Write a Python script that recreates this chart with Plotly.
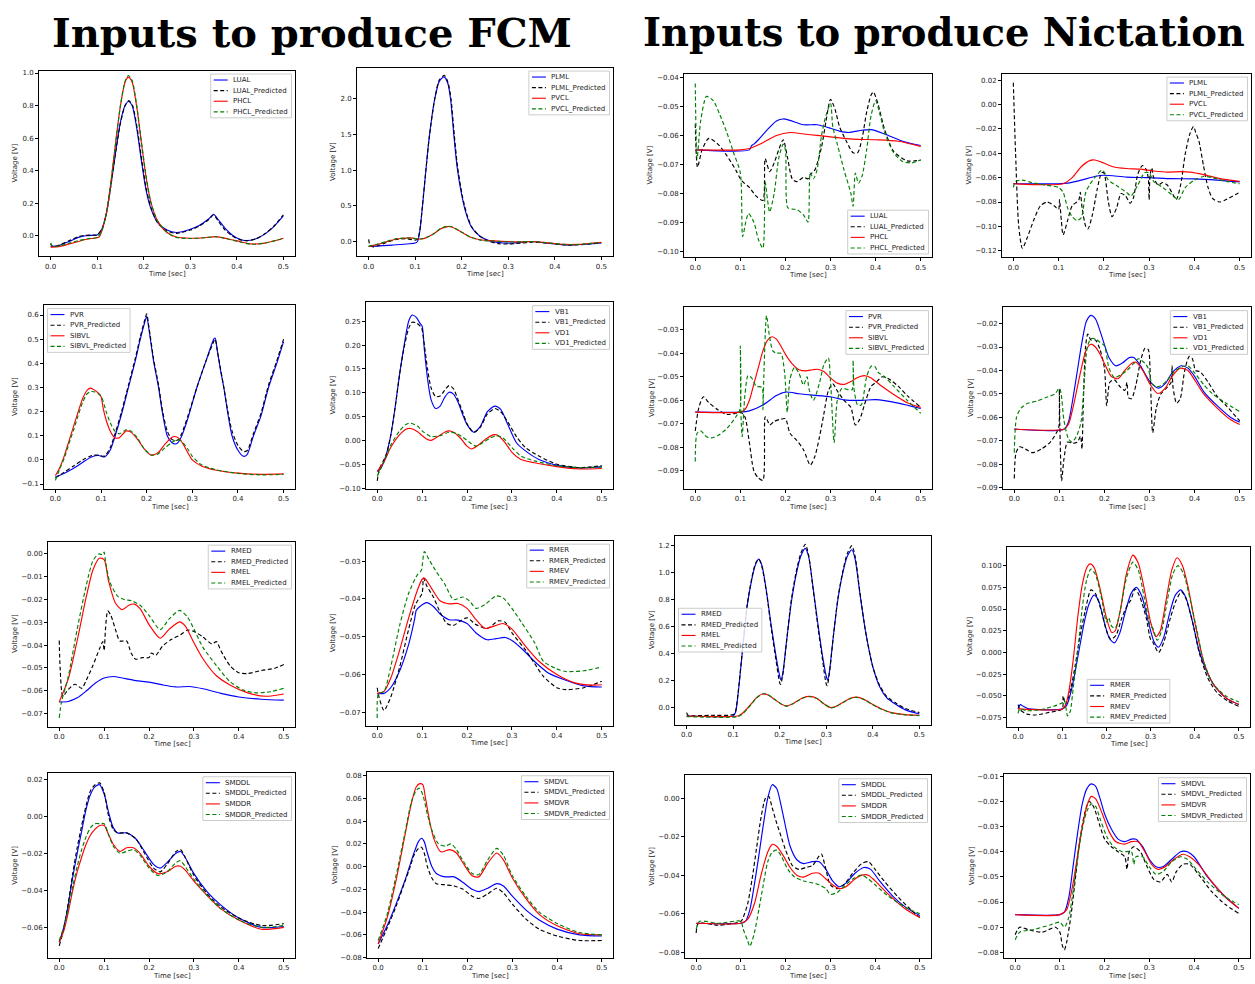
import plotly.graph_objects as go

W, H = 1255, 984

# ---------------- data ----------------
X_TICKS = [0.0, 0.1, 0.2, 0.3, 0.4, 0.5]

# Panel 1 : FCM  LUAL / PHCL
FCM_LUAL = [(0,-0.065),(0.01,-0.064),(0.02,-0.058),(0.04,-0.035),(0.06,-0.01),(0.075,0.0),(0.09,0.003),(0.1,0.005),(0.11,0.04),(0.12,0.14),(0.13,0.32),(0.14,0.52),(0.15,0.70),(0.16,0.80),(0.167,0.825),(0.175,0.80),(0.185,0.66),(0.195,0.46),(0.205,0.28),(0.215,0.17),(0.23,0.08),(0.25,0.035),(0.27,0.02),(0.3,0.04),(0.32,0.065),(0.34,0.105),(0.35,0.132),(0.36,0.1),(0.375,0.045),(0.39,0.005),(0.405,-0.02),(0.42,-0.03),(0.44,-0.02),(0.46,0.01),(0.48,0.058),(0.5,0.122)]
FCM_LUAL_PRED = [(0,-0.05),(0.005,-0.068),(0.02,-0.055),(0.04,-0.03),(0.06,-0.005),(0.075,0.003),(0.09,0.004),(0.1,0.006),(0.11,0.04),(0.12,0.14),(0.13,0.32),(0.14,0.52),(0.15,0.69),(0.16,0.80),(0.168,0.83),(0.176,0.80),(0.186,0.66),(0.196,0.46),(0.206,0.28),(0.216,0.17),(0.23,0.08),(0.25,0.03),(0.27,0.015),(0.3,0.035),(0.32,0.06),(0.34,0.1),(0.35,0.128),(0.36,0.09),(0.375,0.035),(0.39,0.0),(0.405,-0.022),(0.42,-0.03),(0.44,-0.02),(0.46,0.012),(0.48,0.06),(0.5,0.128)]
FCM_PHCL = [(0,-0.07),(0.02,-0.065),(0.04,-0.05),(0.06,-0.035),(0.08,-0.02),(0.1,-0.012),(0.105,-0.005),(0.11,0.03),(0.12,0.14),(0.13,0.34),(0.14,0.58),(0.15,0.80),(0.16,0.945),(0.167,0.975),(0.175,0.945),(0.185,0.79),(0.195,0.57),(0.205,0.36),(0.215,0.21),(0.23,0.09),(0.25,0.02),(0.27,-0.008),(0.3,-0.015),(0.33,-0.012),(0.355,-0.005),(0.38,-0.018),(0.41,-0.038),(0.43,-0.05),(0.46,-0.045),(0.5,-0.015)]
FCM_PHCL_PRED = [(0,-0.045),(0.005,-0.068),(0.02,-0.06),(0.04,-0.045),(0.06,-0.03),(0.08,-0.018),(0.1,-0.01),(0.11,0.03),(0.12,0.14),(0.13,0.34),(0.14,0.58),(0.15,0.80),(0.16,0.95),(0.167,0.985),(0.175,0.955),(0.185,0.80),(0.195,0.58),(0.205,0.37),(0.215,0.21),(0.23,0.09),(0.25,0.022),(0.27,-0.01),(0.3,-0.017),(0.33,-0.012),(0.355,-0.006),(0.38,-0.02),(0.41,-0.04),(0.43,-0.052),(0.46,-0.045),(0.5,-0.017)]

# Panel 2 : FCM  PLML / PVCL
FCM_PLML = [(0,-0.07),(0.05,-0.05),(0.1,-0.02),(0.105,0.0),(0.11,0.15),(0.115,0.45),(0.123,1.0),(0.13,1.45),(0.142,2.0),(0.152,2.25),(0.162,2.31),(0.17,2.22),(0.176,2.0),(0.183,1.5),(0.19,1.05),(0.2,0.65),(0.21,0.38),(0.221,0.2),(0.24,0.07),(0.26,0.01),(0.29,-0.02),(0.31,-0.02),(0.35,0.0),(0.38,-0.02),(0.43,-0.05),(0.5,-0.02)]
FCM_PLML_PRED = [(0,0.03),(0.003,-0.05),(0.01,-0.075),(0.02,-0.06),(0.04,-0.01),(0.06,0.03),(0.08,0.04),(0.1,0.02),(0.105,0.03),(0.11,0.16),(0.115,0.46),(0.123,1.0),(0.13,1.45),(0.142,2.0),(0.152,2.27),(0.163,2.33),(0.171,2.22),(0.177,2.0),(0.184,1.5),(0.191,1.05),(0.201,0.65),(0.211,0.38),(0.222,0.2),(0.24,0.07),(0.26,0.0),(0.28,-0.03),(0.3,-0.035),(0.33,-0.02),(0.35,-0.01),(0.38,-0.02),(0.43,-0.05),(0.5,-0.02)]
FCM_PVCL = [(0,-0.07),(0.02,-0.04),(0.04,0.0),(0.06,0.035),(0.08,0.05),(0.095,0.048),(0.11,0.035),(0.12,0.045),(0.14,0.11),(0.155,0.18),(0.17,0.21),(0.18,0.2),(0.2,0.13),(0.22,0.06),(0.24,0.025),(0.27,0.01),(0.3,0.0),(0.33,-0.005),(0.35,0.0),(0.38,-0.015),(0.42,-0.04),(0.45,-0.04),(0.5,-0.01)]
FCM_PVCL_PRED = [(0,-0.065),(0.02,-0.035),(0.04,0.005),(0.06,0.04),(0.08,0.05),(0.095,0.045),(0.11,0.035),(0.12,0.045),(0.14,0.11),(0.155,0.185),(0.17,0.215),(0.18,0.205),(0.2,0.13),(0.22,0.06),(0.24,0.02),(0.27,0.005),(0.3,-0.005),(0.33,-0.005),(0.35,0.0),(0.38,-0.015),(0.42,-0.04),(0.45,-0.042),(0.5,-0.01)]

# Panel 3 : Nictation  LUAL / PHCL
NIC_LUAL = [(0,-0.065),(0.12,-0.065),(0.125,-0.0635),(0.13,-0.063),(0.14,-0.0615),(0.16,-0.058),(0.18,-0.055),(0.195,-0.0543),(0.21,-0.0548),(0.24,-0.0563),(0.27,-0.0563),(0.3,-0.0575),(0.32,-0.0585),(0.34,-0.059),(0.37,-0.0582),(0.39,-0.058),(0.42,-0.0595),(0.46,-0.062),(0.5,-0.0635)]
NIC_LUAL_PRED = [(0,-0.056),(0.005,-0.071),(0.015,-0.065),(0.03,-0.061),(0.05,-0.063),(0.07,-0.067),(0.09,-0.072),(0.1,-0.075),(0.105,-0.076),(0.12,-0.078),(0.135,-0.081),(0.15,-0.0825),(0.155,-0.068),(0.165,-0.0725),(0.175,-0.0695),(0.185,-0.065),(0.195,-0.0615),(0.205,-0.068),(0.215,-0.075),(0.225,-0.076),(0.24,-0.0745),(0.25,-0.075),(0.255,-0.0735),(0.265,-0.072),(0.28,-0.064),(0.29,-0.055),(0.3,-0.0475),(0.31,-0.051),(0.32,-0.057),(0.335,-0.062),(0.35,-0.066),(0.36,-0.066),(0.37,-0.061),(0.38,-0.052),(0.39,-0.046),(0.395,-0.045),(0.405,-0.049),(0.42,-0.058),(0.44,-0.0655),(0.47,-0.0688),(0.5,-0.0685)]
NIC_PHCL = [(0,-0.065),(0.1,-0.065),(0.12,-0.0645),(0.15,-0.0625),(0.18,-0.06),(0.21,-0.059),(0.24,-0.0595),(0.27,-0.06),(0.3,-0.0605),(0.35,-0.0613),(0.4,-0.0615),(0.45,-0.062),(0.5,-0.0638)]
NIC_PHCL_PRED = [(0,-0.042),(0.004,-0.068),(0.012,-0.055),(0.025,-0.0465),(0.04,-0.048),(0.055,-0.053),(0.07,-0.059),(0.085,-0.066),(0.1,-0.073),(0.105,-0.095),(0.112,-0.09),(0.118,-0.087),(0.13,-0.09),(0.14,-0.096),(0.15,-0.099),(0.155,-0.076),(0.16,-0.082),(0.165,-0.0865),(0.175,-0.08),(0.185,-0.068),(0.195,-0.063),(0.2,-0.065),(0.205,-0.085),(0.215,-0.0855),(0.225,-0.0856),(0.24,-0.0875),(0.25,-0.09),(0.255,-0.073),(0.262,-0.075),(0.27,-0.072),(0.28,-0.06),(0.29,-0.053),(0.3,-0.049),(0.305,-0.057),(0.315,-0.063),(0.33,-0.072),(0.345,-0.08),(0.35,-0.0845),(0.355,-0.073),(0.362,-0.0765),(0.37,-0.074),(0.38,-0.065),(0.39,-0.053),(0.4,-0.048),(0.41,-0.053),(0.42,-0.059),(0.44,-0.066),(0.46,-0.069),(0.48,-0.0695),(0.5,-0.0685)]

# Panel 4 : Nictation  PLML / PVCL
NIC_PLML = [(0,-0.065),(0.1,-0.065),(0.12,-0.0645),(0.15,-0.062),(0.18,-0.059),(0.2,-0.058),(0.25,-0.0595),(0.3,-0.06),(0.35,-0.0608),(0.4,-0.061),(0.45,-0.062),(0.5,-0.0635)]
NIC_PLML_PRED = [(0,0.018),(0.005,-0.04),(0.012,-0.1),(0.02,-0.118),(0.03,-0.11),(0.045,-0.095),(0.06,-0.083),(0.075,-0.08),(0.09,-0.083),(0.1,-0.086),(0.102,-0.078),(0.106,-0.095),(0.11,-0.107),(0.12,-0.095),(0.13,-0.083),(0.14,-0.08),(0.145,-0.078),(0.148,-0.072),(0.152,-0.085),(0.16,-0.1),(0.165,-0.102),(0.175,-0.09),(0.185,-0.07),(0.195,-0.056),(0.2,-0.056),(0.21,-0.08),(0.218,-0.092),(0.228,-0.085),(0.238,-0.073),(0.248,-0.075),(0.258,-0.081),(0.265,-0.077),(0.275,-0.057),(0.285,-0.05),(0.293,-0.053),(0.298,-0.06),(0.3,-0.078),(0.302,-0.058),(0.306,-0.052),(0.31,-0.06),(0.32,-0.066),(0.33,-0.064),(0.34,-0.066),(0.35,-0.072),(0.36,-0.078),(0.37,-0.065),(0.38,-0.04),(0.39,-0.024),(0.398,-0.018),(0.403,-0.023),(0.41,-0.03),(0.42,-0.05),(0.43,-0.068),(0.44,-0.077),(0.455,-0.08),(0.47,-0.078),(0.49,-0.074),(0.5,-0.072)]
NIC_PVCL = [(0,-0.065),(0.11,-0.065),(0.13,-0.06),(0.15,-0.051),(0.17,-0.0458),(0.18,-0.0455),(0.2,-0.048),(0.22,-0.051),(0.25,-0.0525),(0.28,-0.053),(0.31,-0.0545),(0.34,-0.0555),(0.37,-0.055),(0.39,-0.0555),(0.42,-0.0575),(0.46,-0.061),(0.5,-0.063)]
NIC_PVCL_PRED = [(0,-0.068),(0.005,-0.063),(0.02,-0.062),(0.04,-0.064),(0.07,-0.066),(0.1,-0.068),(0.11,-0.072),(0.12,-0.085),(0.13,-0.092),(0.14,-0.095),(0.15,-0.093),(0.16,-0.072),(0.17,-0.065),(0.18,-0.06),(0.195,-0.054),(0.2,-0.055),(0.21,-0.062),(0.23,-0.067),(0.25,-0.072),(0.26,-0.075),(0.275,-0.066),(0.29,-0.056),(0.3,-0.056),(0.31,-0.063),(0.33,-0.068),(0.35,-0.074),(0.365,-0.078),(0.38,-0.068),(0.4,-0.062),(0.42,-0.059),(0.44,-0.06),(0.47,-0.063),(0.5,-0.065)]

# Panel 5 : FCM  PVR / SIBVL
FCM_PVR = [(0,-0.07),(0.02,-0.055),(0.04,-0.035),(0.06,-0.01),(0.08,0.013),(0.095,0.018),(0.105,0.012),(0.11,0.015),(0.12,0.04),(0.131,0.1),(0.145,0.19),(0.16,0.3),(0.175,0.41),(0.186,0.5),(0.195,0.565),(0.2,0.595),(0.205,0.54),(0.215,0.41),(0.226,0.3),(0.235,0.19),(0.245,0.1),(0.255,0.072),(0.263,0.066),(0.27,0.075),(0.277,0.1),(0.29,0.17),(0.31,0.3),(0.33,0.41),(0.347,0.5),(0.35,0.505),(0.355,0.45),(0.362,0.37),(0.369,0.3),(0.378,0.19),(0.387,0.1),(0.4,0.04),(0.412,0.015),(0.42,0.022),(0.434,0.1),(0.45,0.18),(0.467,0.3),(0.485,0.4),(0.5,0.49)]
FCM_PVR_PRED = [(0,-0.075),(0.02,-0.05),(0.04,-0.025),(0.06,0.0),(0.08,0.018),(0.095,0.02),(0.105,0.015),(0.11,0.02),(0.12,0.05),(0.131,0.11),(0.145,0.2),(0.16,0.31),(0.175,0.42),(0.186,0.51),(0.195,0.575),(0.2,0.605),(0.205,0.55),(0.215,0.42),(0.226,0.31),(0.235,0.2),(0.245,0.12),(0.255,0.085),(0.263,0.08),(0.27,0.085),(0.277,0.11),(0.29,0.18),(0.31,0.3),(0.33,0.41),(0.347,0.49),(0.35,0.5),(0.355,0.45),(0.362,0.375),(0.369,0.3),(0.378,0.2),(0.387,0.12),(0.4,0.06),(0.412,0.035),(0.42,0.038),(0.434,0.11),(0.45,0.19),(0.467,0.31),(0.485,0.41),(0.5,0.5)]
FCM_SIBVL = [(0,-0.065),(0.01,-0.03),(0.02,0.02),(0.03,0.08),(0.04,0.14),(0.05,0.2),(0.06,0.255),(0.07,0.29),(0.077,0.297),(0.085,0.29),(0.095,0.275),(0.1,0.262),(0.105,0.21),(0.112,0.16),(0.12,0.12),(0.13,0.092),(0.14,0.092),(0.155,0.12),(0.165,0.115),(0.18,0.085),(0.195,0.045),(0.21,0.02),(0.225,0.03),(0.24,0.065),(0.255,0.093),(0.262,0.097),(0.27,0.09),(0.28,0.065),(0.29,0.03),(0.3,0.0),(0.32,-0.025),(0.35,-0.042),(0.4,-0.055),(0.45,-0.06),(0.5,-0.058)]
FCM_SIBVL_PRED = [(0,-0.085),(0.01,-0.035),(0.02,0.01),(0.03,0.07),(0.04,0.125),(0.05,0.185),(0.06,0.24),(0.07,0.275),(0.077,0.283),(0.085,0.282),(0.095,0.272),(0.1,0.263),(0.105,0.24),(0.112,0.195),(0.12,0.155),(0.13,0.12),(0.14,0.108),(0.155,0.125),(0.165,0.12),(0.18,0.09),(0.195,0.045),(0.21,0.02),(0.225,0.025),(0.24,0.05),(0.255,0.072),(0.265,0.083),(0.275,0.08),(0.29,0.045),(0.3,0.015),(0.32,-0.02),(0.35,-0.04),(0.4,-0.056),(0.45,-0.062),(0.5,-0.06)]

# Panel 6 : FCM  VB1 / VD1
FCM_VB1 = [(0,-0.065),(0.01,-0.055),(0.02,-0.03),(0.03,0.01),(0.04,0.07),(0.05,0.14),(0.06,0.2),(0.07,0.25),(0.078,0.263),(0.087,0.258),(0.095,0.246),(0.1,0.24),(0.105,0.19),(0.112,0.13),(0.12,0.085),(0.13,0.067),(0.14,0.072),(0.15,0.09),(0.16,0.101),(0.17,0.097),(0.18,0.08),(0.19,0.055),(0.2,0.033),(0.215,0.017),(0.23,0.03),(0.245,0.06),(0.262,0.072),(0.275,0.065),(0.29,0.035),(0.31,-0.005),(0.33,-0.022),(0.36,-0.04),(0.4,-0.052),(0.45,-0.058),(0.5,-0.055)]
FCM_VB1_PRED = [(0,-0.085),(0.005,-0.06),(0.02,-0.03),(0.03,0.01),(0.04,0.07),(0.05,0.14),(0.06,0.195),(0.07,0.235),(0.078,0.248),(0.088,0.246),(0.097,0.238),(0.1,0.232),(0.105,0.2),(0.112,0.15),(0.12,0.11),(0.13,0.092),(0.14,0.093),(0.15,0.105),(0.16,0.115),(0.17,0.108),(0.18,0.085),(0.19,0.06),(0.2,0.035),(0.215,0.017),(0.23,0.028),(0.245,0.055),(0.262,0.067),(0.275,0.06),(0.29,0.04),(0.31,0.008),(0.33,-0.015),(0.36,-0.033),(0.4,-0.05),(0.45,-0.057),(0.5,-0.053)]
FCM_VD1 = [(0,-0.065),(0.015,-0.045),(0.03,-0.015),(0.05,0.012),(0.065,0.024),(0.075,0.025),(0.09,0.018),(0.1,0.01),(0.11,0.003),(0.12,0.0),(0.135,0.008),(0.15,0.017),(0.16,0.02),(0.17,0.017),(0.185,0.005),(0.2,-0.012),(0.21,-0.018),(0.225,-0.01),(0.245,0.005),(0.26,0.012),(0.27,0.01),(0.285,-0.005),(0.3,-0.025),(0.32,-0.04),(0.35,-0.047),(0.4,-0.055),(0.45,-0.06),(0.5,-0.059)]
FCM_VD1_PRED = [(0,-0.075),(0.015,-0.045),(0.03,-0.01),(0.05,0.02),(0.065,0.034),(0.075,0.036),(0.09,0.03),(0.1,0.02),(0.12,0.008),(0.14,0.01),(0.16,0.017),(0.175,0.015),(0.19,0.007),(0.21,-0.007),(0.22,-0.012),(0.235,-0.005),(0.25,0.004),(0.265,0.01),(0.28,0.005),(0.3,-0.015),(0.32,-0.033),(0.35,-0.043),(0.4,-0.053),(0.45,-0.057),(0.5,-0.056)]

# Panel 7 : Nictation  PVR / SIBVL
NIC_PVR = [(0,-0.065),(0.1,-0.065),(0.12,-0.0645),(0.15,-0.062),(0.18,-0.058),(0.2,-0.0565),(0.23,-0.0572),(0.26,-0.0578),(0.3,-0.0585),(0.33,-0.0598),(0.37,-0.06),(0.4,-0.0597),(0.45,-0.0612),(0.5,-0.0635)]
NIC_PVR_PRED = [(0,-0.073),(0.008,-0.063),(0.018,-0.0585),(0.03,-0.061),(0.05,-0.064),(0.07,-0.066),(0.09,-0.0655),(0.1,-0.065),(0.11,-0.067),(0.12,-0.078),(0.13,-0.09),(0.14,-0.093),(0.15,-0.094),(0.155,-0.067),(0.16,-0.0685),(0.165,-0.0705),(0.175,-0.069),(0.19,-0.068),(0.2,-0.0678),(0.21,-0.074),(0.225,-0.077),(0.24,-0.081),(0.255,-0.0875),(0.265,-0.084),(0.275,-0.076),(0.285,-0.066),(0.295,-0.056),(0.305,-0.053),(0.315,-0.056),(0.33,-0.06),(0.345,-0.063),(0.355,-0.0705),(0.365,-0.068),(0.375,-0.062),(0.39,-0.054),(0.4,-0.0525),(0.415,-0.05),(0.43,-0.051),(0.45,-0.054),(0.47,-0.058),(0.5,-0.063)]
NIC_SIBVL = [(0,-0.065),(0.1,-0.065),(0.11,-0.064),(0.12,-0.06),(0.13,-0.053),(0.14,-0.046),(0.15,-0.039),(0.16,-0.0345),(0.17,-0.033),(0.18,-0.034),(0.19,-0.037),(0.2,-0.0405),(0.215,-0.0445),(0.23,-0.047),(0.245,-0.0475),(0.26,-0.047),(0.27,-0.0468),(0.285,-0.0478),(0.3,-0.0505),(0.315,-0.0527),(0.33,-0.0532),(0.345,-0.052),(0.36,-0.0503),(0.375,-0.0495),(0.39,-0.0505),(0.41,-0.0535),(0.44,-0.0575),(0.47,-0.061),(0.5,-0.063)]
NIC_SIBVL_PRED = [(0,-0.086),(0.004,-0.074),(0.012,-0.073),(0.025,-0.0755),(0.035,-0.076),(0.05,-0.075),(0.07,-0.072),(0.09,-0.067),(0.099,-0.064),(0.1,-0.037),(0.101,-0.064),(0.104,-0.0755),(0.11,-0.058),(0.117,-0.0495),(0.125,-0.0505),(0.135,-0.054),(0.148,-0.0545),(0.15,-0.064),(0.152,-0.05),(0.158,-0.024),(0.164,-0.032),(0.172,-0.039),(0.18,-0.04),(0.19,-0.04),(0.198,-0.048),(0.204,-0.065),(0.21,-0.051),(0.22,-0.046),(0.23,-0.0485),(0.24,-0.0535),(0.248,-0.05),(0.252,-0.055),(0.262,-0.06),(0.275,-0.053),(0.285,-0.045),(0.295,-0.042),(0.3,-0.052),(0.308,-0.078),(0.315,-0.06),(0.325,-0.055),(0.34,-0.0555),(0.348,-0.0555),(0.35,-0.043),(0.352,-0.055),(0.36,-0.062),(0.368,-0.062),(0.38,-0.05),(0.39,-0.0455),(0.398,-0.0455),(0.405,-0.048),(0.42,-0.05),(0.44,-0.054),(0.47,-0.06),(0.5,-0.0655)]

# Panel 8 : Nictation  VB1 / VD1
NIC_VB1 = [(0,-0.065),(0.11,-0.065),(0.12,-0.062),(0.13,-0.052),(0.14,-0.04),(0.15,-0.028),(0.16,-0.019),(0.17,-0.0165),(0.18,-0.018),(0.19,-0.023),(0.2,-0.029),(0.21,-0.0345),(0.225,-0.038),(0.24,-0.0368),(0.255,-0.0345),(0.265,-0.0345),(0.28,-0.038),(0.3,-0.0445),(0.32,-0.0475),(0.335,-0.0455),(0.35,-0.041),(0.37,-0.038),(0.385,-0.039),(0.4,-0.0425),(0.42,-0.049),(0.45,-0.055),(0.48,-0.06),(0.5,-0.062)]
NIC_VB1_PRED = [(0,-0.086),(0.004,-0.075),(0.012,-0.0725),(0.025,-0.0735),(0.04,-0.075),(0.06,-0.0735),(0.08,-0.0705),(0.095,-0.066),(0.099,-0.064),(0.1,-0.048),(0.101,-0.063),(0.105,-0.087),(0.11,-0.078),(0.118,-0.0705),(0.13,-0.071),(0.14,-0.0705),(0.147,-0.068),(0.15,-0.0735),(0.153,-0.055),(0.158,-0.03),(0.163,-0.0245),(0.17,-0.027),(0.18,-0.027),(0.19,-0.031),(0.2,-0.039),(0.205,-0.055),(0.212,-0.045),(0.222,-0.044),(0.235,-0.047),(0.245,-0.0485),(0.25,-0.045),(0.253,-0.0515),(0.26,-0.052),(0.27,-0.046),(0.28,-0.036),(0.29,-0.0305),(0.297,-0.031),(0.302,-0.045),(0.307,-0.0665),(0.315,-0.056),(0.325,-0.05),(0.34,-0.047),(0.348,-0.045),(0.35,-0.038),(0.352,-0.047),(0.36,-0.054),(0.368,-0.052),(0.378,-0.04),(0.388,-0.034),(0.395,-0.035),(0.402,-0.04),(0.412,-0.0405),(0.43,-0.045),(0.45,-0.051),(0.47,-0.055),(0.5,-0.0615)]
NIC_VD1 = [(0,-0.065),(0.11,-0.065),(0.12,-0.063),(0.13,-0.056),(0.14,-0.047),(0.15,-0.038),(0.16,-0.031),(0.17,-0.0288),(0.18,-0.03),(0.19,-0.033),(0.2,-0.037),(0.215,-0.0425),(0.23,-0.0435),(0.245,-0.04),(0.26,-0.037),(0.27,-0.0365),(0.285,-0.04),(0.3,-0.0455),(0.318,-0.0498),(0.335,-0.0475),(0.35,-0.0425),(0.368,-0.039),(0.385,-0.04),(0.4,-0.044),(0.42,-0.05),(0.45,-0.056),(0.48,-0.061),(0.5,-0.063)]
NIC_VD1_PRED = [(0,-0.075),(0.005,-0.06),(0.015,-0.056),(0.03,-0.054),(0.05,-0.053),(0.07,-0.0515),(0.09,-0.05),(0.1,-0.0475),(0.104,-0.05),(0.11,-0.061),(0.12,-0.069),(0.128,-0.0705),(0.138,-0.068),(0.148,-0.062),(0.155,-0.045),(0.162,-0.03),(0.17,-0.0265),(0.18,-0.0265),(0.19,-0.028),(0.2,-0.0295),(0.21,-0.039),(0.222,-0.043),(0.235,-0.042),(0.25,-0.04),(0.265,-0.037),(0.275,-0.035),(0.29,-0.037),(0.297,-0.039),(0.305,-0.0455),(0.315,-0.047),(0.325,-0.0465),(0.34,-0.044),(0.355,-0.0405),(0.37,-0.0385),(0.385,-0.038),(0.4,-0.041),(0.42,-0.046),(0.44,-0.05),(0.47,-0.054),(0.5,-0.0575)]

# Panel 9 : FCM  RMED / RMEL
FCM_RMED = [(0,-0.065),(0.02,-0.0648),(0.04,-0.0632),(0.06,-0.0602),(0.08,-0.0568),(0.1,-0.0545),(0.12,-0.0538),(0.14,-0.0545),(0.17,-0.0556),(0.2,-0.0563),(0.23,-0.0575),(0.26,-0.0584),(0.29,-0.0582),(0.32,-0.0592),(0.36,-0.0612),(0.4,-0.0628),(0.45,-0.0638),(0.5,-0.0642)]
FCM_RMED_PRED = [(0,-0.038),(0.002,-0.05),(0.008,-0.0625),(0.02,-0.0595),(0.035,-0.0572),(0.05,-0.059),(0.06,-0.0555),(0.075,-0.049),(0.09,-0.0415),(0.097,-0.0385),(0.1,-0.0425),(0.103,-0.033),(0.108,-0.025),(0.115,-0.027),(0.125,-0.033),(0.135,-0.0382),(0.15,-0.0382),(0.16,-0.0435),(0.17,-0.0462),(0.185,-0.0455),(0.2,-0.0455),(0.205,-0.0435),(0.215,-0.0445),(0.23,-0.0405),(0.25,-0.0375),(0.27,-0.0355),(0.285,-0.0335),(0.3,-0.034),(0.32,-0.0365),(0.34,-0.0395),(0.35,-0.0385),(0.36,-0.0425),(0.38,-0.049),(0.4,-0.0522),(0.42,-0.0525),(0.45,-0.0512),(0.48,-0.0502),(0.5,-0.0485)]
FCM_RMEL = [(0,-0.065),(0.02,-0.055),(0.04,-0.038),(0.06,-0.019),(0.075,-0.007),(0.09,-0.0018),(0.1,-0.0025),(0.11,-0.012),(0.125,-0.0215),(0.14,-0.0245),(0.155,-0.0225),(0.167,-0.022),(0.18,-0.024),(0.2,-0.031),(0.225,-0.037),(0.245,-0.033),(0.268,-0.0298),(0.28,-0.0315),(0.3,-0.039),(0.32,-0.046),(0.35,-0.0535),(0.38,-0.0575),(0.42,-0.061),(0.46,-0.0625),(0.5,-0.0615)]
FCM_RMEL_PRED = [(0,-0.072),(0.005,-0.065),(0.02,-0.054),(0.04,-0.033),(0.06,-0.014),(0.075,-0.003),(0.088,0.0),(0.097,-0.0003),(0.1,0.0008),(0.103,-0.003),(0.112,-0.012),(0.13,-0.0185),(0.145,-0.02),(0.16,-0.0205),(0.18,-0.0225),(0.2,-0.027),(0.225,-0.0332),(0.245,-0.0285),(0.268,-0.0248),(0.285,-0.0275),(0.3,-0.033),(0.32,-0.041),(0.35,-0.049),(0.38,-0.056),(0.41,-0.0598),(0.44,-0.061),(0.47,-0.0605),(0.5,-0.059)]

# Panel 10 : FCM  RMER / RMEV
FCM_RMER = [(0,-0.065),(0.015,-0.065),(0.03,-0.0635),(0.05,-0.059),(0.07,-0.052),(0.083,-0.0455),(0.087,-0.043),(0.095,-0.042),(0.11,-0.041),(0.125,-0.042),(0.14,-0.044),(0.16,-0.0455),(0.18,-0.0456),(0.2,-0.0465),(0.22,-0.049),(0.245,-0.0508),(0.265,-0.0505),(0.285,-0.0502),(0.3,-0.051),(0.325,-0.0535),(0.35,-0.0565),(0.38,-0.0595),(0.42,-0.0615),(0.46,-0.063),(0.5,-0.0633)]
FCM_RMER_PRED = [(0,-0.0635),(0.003,-0.0655),(0.015,-0.0695),(0.03,-0.066),(0.05,-0.058),(0.07,-0.048),(0.085,-0.0415),(0.1,-0.0385),(0.103,-0.0345),(0.11,-0.0365),(0.125,-0.0395),(0.14,-0.0435),(0.155,-0.0465),(0.17,-0.047),(0.185,-0.0458),(0.2,-0.045),(0.22,-0.0468),(0.245,-0.0478),(0.27,-0.0458),(0.285,-0.0462),(0.3,-0.049),(0.33,-0.0535),(0.35,-0.057),(0.37,-0.0605),(0.4,-0.0635),(0.42,-0.064),(0.46,-0.0635),(0.5,-0.0618)]
FCM_RMEV = [(0,-0.065),(0.015,-0.0645),(0.03,-0.061),(0.05,-0.0535),(0.07,-0.045),(0.09,-0.0375),(0.1,-0.0348),(0.105,-0.0345),(0.12,-0.037),(0.14,-0.0405),(0.16,-0.0413),(0.18,-0.0412),(0.2,-0.0425),(0.22,-0.0455),(0.24,-0.0478),(0.26,-0.0472),(0.28,-0.0465),(0.3,-0.048),(0.33,-0.0525),(0.36,-0.0565),(0.4,-0.06),(0.44,-0.0622),(0.48,-0.0628),(0.5,-0.0627)]
FCM_RMEV_PRED = [(0,-0.0715),(0.003,-0.065),(0.015,-0.0645),(0.03,-0.058),(0.05,-0.047),(0.07,-0.0385),(0.09,-0.0335),(0.098,-0.0325),(0.105,-0.0275),(0.115,-0.0295),(0.13,-0.0325),(0.15,-0.036),(0.17,-0.0402),(0.19,-0.0395),(0.205,-0.0405),(0.22,-0.0425),(0.24,-0.0415),(0.265,-0.0392),(0.28,-0.0397),(0.3,-0.0425),(0.32,-0.046),(0.35,-0.0515),(0.37,-0.0565),(0.4,-0.0585),(0.42,-0.0592),(0.46,-0.059),(0.5,-0.058)]

# Panel 11 : Nictation  RMED / RMEL
NIC_RMED = [(0,-0.065),(0.1,-0.063),(0.105,-0.04),(0.11,0.08),(0.12,0.42),(0.13,0.75),(0.14,0.95),(0.148,1.06),(0.155,1.1),(0.162,1.05),(0.172,0.85),(0.182,0.6),(0.192,0.38),(0.2,0.23),(0.203,0.2),(0.207,0.26),(0.215,0.5),(0.225,0.78),(0.235,0.98),(0.245,1.12),(0.255,1.18),(0.262,1.12),(0.272,0.88),(0.282,0.62),(0.292,0.38),(0.3,0.23),(0.303,0.2),(0.307,0.27),(0.315,0.52),(0.325,0.8),(0.335,0.99),(0.345,1.12),(0.355,1.17),(0.362,1.1),(0.372,0.85),(0.385,0.55),(0.4,0.3),(0.415,0.15),(0.43,0.07),(0.45,0.02),(0.47,-0.02),(0.5,-0.05)]
NIC_RMED_PRED = [(0,-0.04),(0.003,-0.06),(0.05,-0.06),(0.1,-0.055),(0.105,-0.03),(0.11,0.09),(0.12,0.43),(0.13,0.76),(0.14,0.96),(0.148,1.07),(0.155,1.1),(0.162,1.04),(0.172,0.84),(0.182,0.58),(0.192,0.35),(0.2,0.18),(0.202,0.17),(0.207,0.25),(0.215,0.5),(0.225,0.8),(0.235,1.0),(0.245,1.14),(0.255,1.21),(0.262,1.13),(0.272,0.87),(0.282,0.6),(0.292,0.35),(0.3,0.17),(0.302,0.16),(0.307,0.26),(0.315,0.52),(0.325,0.81),(0.335,1.0),(0.345,1.14),(0.355,1.2),(0.362,1.12),(0.372,0.86),(0.385,0.55),(0.4,0.3),(0.415,0.16),(0.43,0.08),(0.45,0.03),(0.47,-0.01),(0.5,-0.04)]
NIC_RMEL = [(0,-0.065),(0.11,-0.065),(0.12,-0.045),(0.13,-0.01),(0.14,0.03),(0.15,0.07),(0.163,0.098),(0.175,0.09),(0.19,0.055),(0.205,0.02),(0.215,0.01),(0.23,0.03),(0.25,0.07),(0.265,0.08),(0.28,0.065),(0.295,0.025),(0.31,-0.003),(0.32,0.005),(0.34,0.045),(0.355,0.07),(0.365,0.075),(0.38,0.06),(0.4,0.02),(0.42,-0.015),(0.44,-0.04),(0.47,-0.055),(0.5,-0.06)]
NIC_RMEL_PRED = [(0,-0.07),(0.11,-0.07),(0.12,-0.05),(0.13,-0.015),(0.14,0.025),(0.15,0.068),(0.165,0.1),(0.175,0.092),(0.19,0.056),(0.205,0.02),(0.215,0.008),(0.23,0.028),(0.25,0.068),(0.265,0.078),(0.28,0.064),(0.295,0.024),(0.31,-0.005),(0.32,0.003),(0.34,0.043),(0.355,0.068),(0.365,0.073),(0.38,0.058),(0.4,0.018),(0.42,-0.017),(0.44,-0.042),(0.47,-0.057),(0.5,-0.063)]

# Panel 12 : Nictation  RMER / RMEV
NIC_RMER = [(0,-0.065),(0.005,-0.06),(0.012,-0.062),(0.025,-0.065),(0.1,-0.065),(0.11,-0.061),(0.12,-0.045),(0.13,-0.02),(0.14,0.008),(0.15,0.035),(0.16,0.055),(0.172,0.066),(0.182,0.06),(0.195,0.035),(0.207,0.016),(0.218,0.011),(0.23,0.022),(0.243,0.047),(0.256,0.068),(0.268,0.075),(0.28,0.065),(0.295,0.035),(0.308,0.012),(0.318,0.006),(0.33,0.018),(0.343,0.045),(0.356,0.066),(0.368,0.072),(0.38,0.063),(0.395,0.035),(0.41,0.002),(0.43,-0.025),(0.45,-0.042),(0.475,-0.054),(0.5,-0.06)]
NIC_RMER_PRED = [(0,-0.06),(0.005,-0.066),(0.02,-0.071),(0.04,-0.072),(0.07,-0.069),(0.1,-0.065),(0.102,-0.05),(0.108,-0.06),(0.12,-0.04),(0.13,-0.013),(0.14,0.018),(0.152,0.048),(0.165,0.072),(0.175,0.068),(0.19,0.045),(0.2,0.025),(0.21,0.015),(0.222,0.02),(0.235,0.04),(0.248,0.055),(0.255,0.06),(0.265,0.073),(0.275,0.065),(0.29,0.04),(0.3,0.015),(0.305,0.012),(0.318,0.0),(0.33,0.012),(0.345,0.04),(0.358,0.06),(0.37,0.07),(0.38,0.062),(0.395,0.035),(0.41,0.0),(0.43,-0.03),(0.45,-0.046),(0.475,-0.056),(0.5,-0.062)]
NIC_RMEV = [(0,-0.065),(0.1,-0.065),(0.108,-0.06),(0.115,-0.045),(0.125,-0.008),(0.135,0.04),(0.145,0.077),(0.155,0.097),(0.163,0.102),(0.172,0.098),(0.185,0.075),(0.2,0.04),(0.212,0.023),(0.22,0.025),(0.232,0.05),(0.245,0.09),(0.26,0.112),(0.272,0.103),(0.285,0.075),(0.3,0.035),(0.312,0.018),(0.322,0.025),(0.335,0.06),(0.348,0.095),(0.36,0.109),(0.372,0.1),(0.385,0.075),(0.4,0.035),(0.42,-0.01),(0.44,-0.035),(0.47,-0.052),(0.5,-0.06)]
NIC_RMEV_PRED = [(0,-0.07),(0.004,-0.065),(0.02,-0.067),(0.05,-0.066),(0.08,-0.062),(0.1,-0.058),(0.105,-0.055),(0.112,-0.073),(0.118,-0.068),(0.125,-0.04),(0.135,0.0),(0.145,0.05),(0.155,0.083),(0.165,0.096),(0.175,0.09),(0.188,0.065),(0.2,0.035),(0.205,0.04),(0.212,0.03),(0.22,0.028),(0.232,0.05),(0.245,0.085),(0.26,0.104),(0.272,0.095),(0.285,0.065),(0.3,0.03),(0.305,0.028),(0.315,0.014),(0.325,0.025),(0.338,0.06),(0.35,0.09),(0.362,0.1),(0.375,0.09),(0.39,0.06),(0.405,0.025),(0.42,-0.01),(0.44,-0.035),(0.47,-0.05),(0.5,-0.057)]

# Panel 13 : FCM  SMDDL / SMDDR
FCM_SMDDL = [(0,-0.068),(0.01,-0.06),(0.02,-0.048),(0.03,-0.033),(0.04,-0.02),(0.05,-0.008),(0.06,0.004),(0.07,0.012),(0.08,0.016),(0.09,0.017),(0.1,0.012),(0.11,0.002),(0.12,-0.006),(0.13,-0.009),(0.15,-0.009),(0.17,-0.012),(0.19,-0.019),(0.21,-0.026),(0.225,-0.028),(0.24,-0.025),(0.26,-0.02),(0.27,-0.019),(0.28,-0.022),(0.3,-0.031),(0.33,-0.041),(0.36,-0.048),(0.4,-0.055),(0.45,-0.06),(0.5,-0.0595)]
FCM_SMDDL_PRED = [(0,-0.07),(0.01,-0.061),(0.02,-0.047),(0.03,-0.031),(0.04,-0.017),(0.05,-0.005),(0.06,0.006),(0.07,0.014),(0.08,0.017),(0.09,0.018),(0.1,0.013),(0.11,0.0),(0.12,-0.007),(0.13,-0.009),(0.15,-0.009),(0.17,-0.012),(0.19,-0.02),(0.21,-0.028),(0.225,-0.03),(0.24,-0.026),(0.26,-0.019),(0.27,-0.018),(0.28,-0.022),(0.3,-0.032),(0.33,-0.042),(0.36,-0.049),(0.4,-0.055),(0.45,-0.059),(0.5,-0.058)]
FCM_SMDDR = [(0,-0.068),(0.01,-0.062),(0.02,-0.052),(0.03,-0.04),(0.04,-0.03),(0.05,-0.022),(0.06,-0.015),(0.07,-0.01),(0.08,-0.007),(0.09,-0.005),(0.1,-0.005),(0.11,-0.01),(0.12,-0.015),(0.135,-0.019),(0.15,-0.017),(0.165,-0.017),(0.18,-0.02),(0.2,-0.027),(0.22,-0.031),(0.24,-0.03),(0.26,-0.027),(0.27,-0.027),(0.28,-0.029),(0.3,-0.035),(0.33,-0.043),(0.36,-0.05),(0.4,-0.056),(0.45,-0.061),(0.5,-0.06)]
FCM_SMDDR_PRED = [(0,-0.067),(0.01,-0.06),(0.02,-0.05),(0.03,-0.038),(0.04,-0.027),(0.05,-0.018),(0.06,-0.011),(0.07,-0.006),(0.08,-0.004),(0.09,-0.004),(0.1,-0.004),(0.11,-0.01),(0.12,-0.016),(0.135,-0.02),(0.15,-0.019),(0.165,-0.018),(0.18,-0.021),(0.2,-0.028),(0.22,-0.032),(0.24,-0.03),(0.26,-0.025),(0.27,-0.024),(0.28,-0.027),(0.3,-0.034),(0.33,-0.043),(0.36,-0.05),(0.4,-0.056),(0.45,-0.06),(0.5,-0.059)]

# Panel 14 : FCM  SMDVL / SMDVR
FCM_SMDVL = [(0,-0.068),(0.02,-0.052),(0.04,-0.033),(0.06,-0.012),(0.07,0.0),(0.08,0.012),(0.09,0.022),(0.097,0.025),(0.103,0.022),(0.11,0.012),(0.12,0.0),(0.13,-0.006),(0.15,-0.009),(0.17,-0.009),(0.19,-0.014),(0.21,-0.02),(0.225,-0.022),(0.245,-0.019),(0.265,-0.015),(0.28,-0.017),(0.3,-0.026),(0.33,-0.038),(0.36,-0.047),(0.4,-0.055),(0.45,-0.06),(0.5,-0.061)]
FCM_SMDVL_PRED = [(0,-0.072),(0.02,-0.054),(0.04,-0.035),(0.06,-0.013),(0.07,-0.002),(0.08,0.01),(0.09,0.016),(0.097,0.017),(0.103,0.012),(0.11,0.0),(0.12,-0.01),(0.13,-0.015),(0.15,-0.016),(0.17,-0.017),(0.19,-0.02),(0.21,-0.026),(0.225,-0.028),(0.245,-0.024),(0.265,-0.019),(0.28,-0.023),(0.3,-0.033),(0.33,-0.046),(0.36,-0.055),(0.4,-0.061),(0.45,-0.065),(0.5,-0.065)]
FCM_SMDVR = [(0,-0.068),(0.02,-0.045),(0.04,-0.012),(0.06,0.028),(0.075,0.057),(0.085,0.07),(0.093,0.073),(0.1,0.072),(0.105,0.062),(0.115,0.04),(0.125,0.024),(0.14,0.013),(0.16,0.015),(0.175,0.012),(0.19,0.003),(0.21,-0.008),(0.225,-0.009),(0.245,0.003),(0.265,0.012),(0.28,0.006),(0.3,-0.01),(0.33,-0.028),(0.36,-0.042),(0.4,-0.052),(0.45,-0.059),(0.5,-0.06)]
FCM_SMDVR_PRED = [(0,-0.065),(0.02,-0.042),(0.04,-0.008),(0.06,0.03),(0.075,0.058),(0.085,0.067),(0.092,0.069),(0.1,0.063),(0.11,0.046),(0.12,0.032),(0.135,0.02),(0.15,0.018),(0.163,0.02),(0.175,0.015),(0.19,0.005),(0.21,-0.006),(0.225,-0.007),(0.245,0.006),(0.265,0.016),(0.28,0.01),(0.3,-0.008),(0.33,-0.026),(0.36,-0.04),(0.4,-0.05),(0.45,-0.058),(0.5,-0.06)]

# Panel 15 : Nictation  SMDDL / SMDDR
NIC_SMDDL = [(0,-0.065),(0.1,-0.065),(0.11,-0.064),(0.12,-0.058),(0.13,-0.045),(0.14,-0.03),(0.15,-0.014),(0.16,0.0),(0.17,0.007),(0.18,0.005),(0.19,-0.004),(0.2,-0.015),(0.21,-0.025),(0.225,-0.032),(0.24,-0.034),(0.26,-0.033),(0.275,-0.033),(0.29,-0.037),(0.305,-0.043),(0.32,-0.046),(0.335,-0.044),(0.355,-0.039),(0.375,-0.036),(0.39,-0.037),(0.41,-0.043),(0.44,-0.051),(0.47,-0.057),(0.5,-0.061)]
NIC_SMDDL_PRED = [(0,-0.07),(0.005,-0.065),(0.05,-0.066),(0.1,-0.064),(0.105,-0.062),(0.115,-0.055),(0.125,-0.042),(0.135,-0.026),(0.145,-0.01),(0.155,0.0),(0.162,0.001),(0.17,-0.005),(0.18,-0.013),(0.19,-0.02),(0.2,-0.027),(0.215,-0.035),(0.23,-0.037),(0.245,-0.036),(0.26,-0.035),(0.275,-0.03),(0.28,-0.029),(0.29,-0.037),(0.3,-0.045),(0.315,-0.047),(0.33,-0.045),(0.35,-0.039),(0.37,-0.034),(0.385,-0.033),(0.4,-0.037),(0.42,-0.043),(0.45,-0.051),(0.48,-0.058),(0.5,-0.062)]
NIC_SMDDR = [(0,-0.065),(0.1,-0.065),(0.115,-0.063),(0.13,-0.055),(0.145,-0.04),(0.16,-0.028),(0.17,-0.024),(0.18,-0.025),(0.195,-0.03),(0.21,-0.036),(0.225,-0.04),(0.24,-0.041),(0.26,-0.039),(0.275,-0.039),(0.29,-0.042),(0.305,-0.045),(0.32,-0.047),(0.335,-0.046),(0.355,-0.042),(0.37,-0.04),(0.385,-0.04),(0.4,-0.043),(0.43,-0.05),(0.47,-0.058),(0.5,-0.062)]
NIC_SMDDR_PRED = [(0,-0.068),(0.008,-0.064),(0.05,-0.065),(0.1,-0.064),(0.105,-0.068),(0.115,-0.074),(0.12,-0.077),(0.13,-0.07),(0.14,-0.058),(0.15,-0.045),(0.16,-0.033),(0.17,-0.028),(0.18,-0.027),(0.19,-0.03),(0.205,-0.037),(0.22,-0.041),(0.24,-0.043),(0.26,-0.044),(0.275,-0.045),(0.29,-0.047),(0.3,-0.05),(0.315,-0.049),(0.33,-0.046),(0.35,-0.042),(0.37,-0.04),(0.385,-0.042),(0.4,-0.045),(0.43,-0.051),(0.47,-0.057),(0.5,-0.06)]

# Panel 16 : Nictation  SMDVL / SMDVR
NIC_SMDVL = [(0,-0.065),(0.1,-0.065),(0.11,-0.064),(0.12,-0.058),(0.13,-0.045),(0.14,-0.032),(0.15,-0.021),(0.16,-0.015),(0.17,-0.013),(0.18,-0.014),(0.19,-0.019),(0.2,-0.025),(0.215,-0.031),(0.23,-0.035),(0.245,-0.036),(0.26,-0.035),(0.27,-0.035),(0.285,-0.038),(0.3,-0.043),(0.315,-0.046),(0.33,-0.046),(0.35,-0.043),(0.37,-0.04),(0.385,-0.04),(0.4,-0.042),(0.43,-0.05),(0.47,-0.058),(0.5,-0.0625)]
NIC_SMDVL_PRED = [(0,-0.073),(0.01,-0.07),(0.03,-0.071),(0.06,-0.072),(0.09,-0.07),(0.1,-0.072),(0.105,-0.077),(0.11,-0.079),(0.115,-0.076),(0.125,-0.065),(0.135,-0.05),(0.145,-0.035),(0.155,-0.025),(0.165,-0.02),(0.175,-0.022),(0.19,-0.03),(0.2,-0.035),(0.215,-0.038),(0.23,-0.04),(0.245,-0.042),(0.25,-0.047),(0.255,-0.04),(0.265,-0.038),(0.28,-0.04),(0.295,-0.046),(0.31,-0.051),(0.325,-0.052),(0.34,-0.049),(0.35,-0.052),(0.36,-0.048),(0.375,-0.045),(0.39,-0.045),(0.41,-0.049),(0.44,-0.056),(0.47,-0.061),(0.5,-0.0645)]
NIC_SMDVR = [(0,-0.065),(0.1,-0.065),(0.115,-0.063),(0.13,-0.052),(0.145,-0.035),(0.16,-0.022),(0.17,-0.018),(0.18,-0.019),(0.195,-0.025),(0.21,-0.032),(0.225,-0.036),(0.245,-0.037),(0.26,-0.036),(0.275,-0.036),(0.29,-0.04),(0.305,-0.045),(0.32,-0.047),(0.335,-0.046),(0.355,-0.043),(0.375,-0.041),(0.39,-0.042),(0.41,-0.045),(0.44,-0.052),(0.47,-0.058),(0.5,-0.0625)]
NIC_SMDVR_PRED = [(0,-0.075),(0.01,-0.072),(0.04,-0.071),(0.08,-0.069),(0.1,-0.068),(0.11,-0.07),(0.12,-0.066),(0.13,-0.055),(0.14,-0.042),(0.15,-0.031),(0.16,-0.024),(0.17,-0.021),(0.18,-0.022),(0.19,-0.027),(0.205,-0.034),(0.22,-0.038),(0.24,-0.04),(0.26,-0.04),(0.265,-0.045),(0.27,-0.042),(0.285,-0.042),(0.3,-0.046),(0.315,-0.049),(0.33,-0.048),(0.35,-0.044),(0.37,-0.042),(0.385,-0.043),(0.4,-0.046),(0.43,-0.052),(0.47,-0.058),(0.5,-0.061)]

# y tick values per panel
YT_1 = [0.0, 0.2, 0.4, 0.6, 0.8, 1.0]
YT_2 = [0.0, 0.5, 1.0, 1.5, 2.0]
YT_3 = [-0.10, -0.09, -0.08, -0.07, -0.06, -0.05, -0.04]
YT_4 = [-0.12, -0.10, -0.08, -0.06, -0.04, -0.02, 0.00, 0.02]
YT_5 = [-0.1, 0.0, 0.1, 0.2, 0.3, 0.4, 0.5, 0.6]
YT_6 = [-0.10, -0.05, 0.00, 0.05, 0.10, 0.15, 0.20, 0.25]
YT_7 = [-0.09, -0.08, -0.07, -0.06, -0.05, -0.04, -0.03]
YT_8 = [-0.09, -0.08, -0.07, -0.06, -0.05, -0.04, -0.03, -0.02]
YT_9 = [-0.07, -0.06, -0.05, -0.04, -0.03, -0.02, -0.01, 0.00]
YT_10 = [-0.07, -0.06, -0.05, -0.04, -0.03]
YT_11 = [0.0, 0.2, 0.4, 0.6, 0.8, 1.0, 1.2]
YT_12 = [-0.075, -0.050, -0.025, 0.000, 0.025, 0.050, 0.075, 0.100]
YT_13 = [-0.06, -0.04, -0.02, 0.00, 0.02]
YT_14 = [-0.08, -0.06, -0.04, -0.02, 0.00, 0.02, 0.04, 0.06, 0.08]
YT_15 = [-0.08, -0.06, -0.04, -0.02, 0.00]
YT_16 = [-0.08, -0.07, -0.06, -0.05, -0.04, -0.03, -0.02, -0.01]

TITLE_LEFT = "Inputs to produce FCM"
TITLE_RIGHT = "Inputs to produce Nictation"
X_LABEL = "Time [sec]"
Y_LABEL = "Voltage [V]"

# ---------------- layout / style ----------------
COLORS = ["#0000ff", "#000000", "#ff0000", "#008000"]
DASHES = ["solid", "4px,2.5px", "solid", "4px,2.5px"]


def lbl(a, b):
    return [a, a + "_Predicted", b, b + "_Predicted"]


PANELS = [
    dict(labels=lbl("LUAL", "PHCL"), data=[FCM_LUAL, FCM_LUAL_PRED, FCM_PHCL, FCM_PHCL_PRED], yt=YT_1, fmt=".1f", frame=(39, 295, 69, 256), yr=(-0.127, 1.015), loc="ur", yl=24),
    dict(labels=lbl("PLML", "PVCL"), data=[FCM_PLML, FCM_PLML_PRED, FCM_PVCL, FCM_PVCL_PRED], yt=YT_2, fmt=".1f", frame=(357, 613, 66, 256), yr=(-0.209, 2.44), loc="ur", yl=24),
    dict(labels=lbl("LUAL", "PHCL"), data=[NIC_LUAL, NIC_LUAL_PRED, NIC_PHCL, NIC_PHCL_PRED], yt=YT_3, fmt=".2f", frame=(684, 932, 72, 257), yr=(-0.1022, -0.0386), loc="lr", yl=34),
    dict(labels=lbl("PLML", "PVCL"), data=[NIC_PLML, NIC_PLML_PRED, NIC_PVCL, NIC_PVCL_PRED], yt=YT_4, fmt=".2f", frame=(1002, 1251, 72, 257), yr=(-0.1255, 0.0255), loc="ur", yl=33),
    dict(labels=lbl("PVR", "SIBVL"), data=[FCM_PVR, FCM_PVR_PRED, FCM_SIBVL, FCM_SIBVL_PRED], yt=YT_5, fmt=".1f", frame=(44, 295, 305, 490), yr=(-0.1206, 0.641), loc="ul", yl=29),
    dict(labels=lbl("VB1", "VD1"), data=[FCM_VB1, FCM_VB1_PRED, FCM_VD1, FCM_VD1_PRED], yt=YT_6, fmt=".2f", frame=(366, 613, 302, 490), yr=(-0.102, 0.29), loc="ur", yl=33),
    dict(labels=lbl("PVR", "SIBVL"), data=[NIC_PVR, NIC_PVR_PRED, NIC_SIBVL, NIC_SIBVL_PRED], yt=YT_7, fmt=".2f", frame=(684, 932, 307, 490), yr=(-0.0977, -0.0204), loc="ur", yl=32),
    dict(labels=lbl("VB1", "VD1"), data=[NIC_VB1, NIC_VB1_PRED, NIC_VD1, NIC_VD1_PRED], yt=YT_8, fmt=".2f", frame=(1003, 1251, 307, 490), yr=(-0.0905, -0.013), loc="ur", yl=32),
    dict(labels=lbl("RMED", "RMEL"), data=[FCM_RMED, FCM_RMED_PRED, FCM_RMEL, FCM_RMEL_PRED], yt=YT_9, fmt=".2f", frame=(48, 295, 543, 729), yr=(-0.0758, 0.0054), loc="ur", yl=33),
    dict(labels=lbl("RMER", "RMEV"), data=[FCM_RMER, FCM_RMER_PRED, FCM_RMEV, FCM_RMEV_PRED], yt=YT_10, fmt=".2f", frame=(366, 613, 542, 728), yr=(-0.0735, -0.0246), loc="ur", yl=33),
    dict(labels=lbl("RMED", "RMEL"), data=[NIC_RMED, NIC_RMED_PRED, NIC_RMEL, NIC_RMEL_PRED], yt=YT_11, fmt=".1f", frame=(675, 931, 537, 727), yr=(-0.129, 1.274), loc="cl", yl=23),
    dict(labels=lbl("RMER", "RMEV"), data=[NIC_RMER, NIC_RMER_PRED, NIC_RMEV, NIC_RMEV_PRED], yt=YT_12, fmt=".3f", frame=(1007, 1250, 548, 729), yr=(-0.0853, 0.1218), loc="lc", yl=37),
    dict(labels=lbl("SMDDL", "SMDDR"), data=[FCM_SMDDL, FCM_SMDDL_PRED, FCM_SMDDR, FCM_SMDDR_PRED], yt=YT_13, fmt=".2f", frame=(48, 295, 776, 962), yr=(-0.0766, 0.0232), loc="ur", yl=33),
    dict(labels=lbl("SMDVL", "SMDVR"), data=[FCM_SMDVL, FCM_SMDVL_PRED, FCM_SMDVR, FCM_SMDVR_PRED], yt=YT_14, fmt=".2f", frame=(367, 613, 775, 962), yr=(-0.0805, 0.083), loc="ur", yl=32),
    dict(labels=lbl("SMDDL", "SMDDR"), data=[NIC_SMDDL, NIC_SMDDL_PRED, NIC_SMDDR, NIC_SMDDR_PRED], yt=YT_15, fmt=".2f", frame=(685, 931, 778, 962), yr=(-0.0831, 0.0119), loc="ur", yl=33),
    dict(labels=lbl("SMDVL", "SMDVR"), data=[NIC_SMDVL, NIC_SMDVL_PRED, NIC_SMDVR, NIC_SMDVR_PRED], yt=YT_16, fmt=".2f", frame=(1004, 1250, 777, 962), yr=(-0.0823, -0.0092), loc="ur", yl=32),
]

ADV = {'A': 1401, 'B': 1405, 'C': 1430, 'D': 1577, 'E': 1294, 'F': 1178, 'H': 1540, 'I': 604,
       'L': 1141, 'M': 1767, 'N': 1532, 'P': 1235, 'R': 1423, 'S': 1300, 'U': 1499, 'V': 1401,
       '1': 1303, '_': 1024, 'r': 842, 'e': 1260, 'd': 1300, 'i': 569, 'c': 1126, 't': 803}
FS = 7
SANS = "DejaVu Sans"
TXT = "#222222"


def text_w(s, size=FS):
    return sum(ADV.get(c, 1250) for c in s) / 2048.0 * size


def px(x):
    return x / W


def py(y):
    return 1 - y / H


fig = go.Figure()
shapes, annotations, axes = [], [], {}

for i, p in enumerate(PANELS, start=1):
    L, R, T, B = p["frame"]
    xs = "" if i == 1 else str(i)
    axes["xaxis" + xs] = dict(
        domain=[px(L), px(R)], range=[-0.025, 0.525], anchor="y" + xs,
        tickvals=X_TICKS, tickformat=".1f",
        showline=True, mirror=True, linecolor="black", linewidth=0.9,
        ticks="outside", ticklen=3, tickwidth=0.8, tickcolor="black",
        showgrid=False, zeroline=False, tickfont=dict(family=SANS, size=FS, color=TXT))
    axes["yaxis" + xs] = dict(
        domain=[py(B), py(T)], range=list(p["yr"]), anchor="x" + xs,
        tickvals=p["yt"], tickformat=p["fmt"],
        showline=True, mirror=True, linecolor="black", linewidth=0.9,
        ticks="outside", ticklen=3, tickwidth=0.8, tickcolor="black",
        showgrid=False, zeroline=False, tickfont=dict(family=SANS, size=FS, color=TXT))

    for k, (lab, ser) in enumerate(zip(p["labels"], p["data"])):
        fig.add_trace(go.Scatter(
            x=[t for t, v in ser], y=[v for t, v in ser], name=lab, mode="lines",
            line=dict(color=COLORS[k], width=1.15, dash=DASHES[k], shape="spline", smoothing=0.7),
            xaxis="x" + xs, yaxis="y" + xs, showlegend=False, hoverinfo="skip"))

    # axis titles
    annotations.append(dict(text=X_LABEL, xref="paper", yref="paper", x=px((L + R) / 2), y=py(B + 18),
                            xanchor="center", yanchor="middle", showarrow=False,
                            font=dict(family=SANS, size=FS, color=TXT)))
    annotations.append(dict(text=Y_LABEL, xref="paper", yref="paper", x=px(L - p["yl"]), y=py((T + B) / 2),
                            xanchor="center", yanchor="middle", showarrow=False, textangle=-90,
                            font=dict(family=SANS, size=FS, color=TXT)))

    # matplotlib-style legend box
    pitch = 10.67
    bw = 22.4 + max(text_w(s) for s in p["labels"]) + 3.5
    bh = 2 * 6 + 3 * pitch
    loc = p["loc"]
    if loc == "ur":
        bx, by = R - 3.5 - bw, T + 3.5
    elif loc == "ul":
        bx, by = L + 3.5, T + 3.5
    elif loc == "lr":
        bx, by = R - 3.5 - bw, B - 3.5 - bh
    elif loc == "cl":
        bx, by = L + 3.5, (T + B) / 2 - bh / 2
    else:  # lower center
        bx, by = (L + R) / 2 - bw / 2, B - 3.5 - bh
    shapes.append(dict(type="rect", xref="paper", yref="paper", x0=px(bx), x1=px(bx + bw),
                       y0=py(by + bh), y1=py(by), fillcolor="rgba(255,255,255,0.85)",
                       line=dict(color="#cccccc", width=1), layer="above"))
    for k, lab in enumerate(p["labels"]):
        yy = by + 6 + k * pitch
        shapes.append(dict(type="line", xref="paper", yref="paper", x0=px(bx + 3), x1=px(bx + 17),
                           y0=py(yy), y1=py(yy), line=dict(color=COLORS[k], width=1.1, dash=DASHES[k]),
                           layer="above"))
        annotations.append(dict(text=lab, xref="paper", yref="paper", x=px(bx + 21.5), y=py(yy),
                                xanchor="left", yanchor="middle", showarrow=False, borderpad=0,
                                font=dict(family=SANS, size=FS, color=TXT)))

annotations.append(dict(text="<b>" + TITLE_LEFT + "</b>", xref="paper", yref="paper", x=px(312), y=py(31),
                        xanchor="center", yanchor="middle", showarrow=False,
                        font=dict(family="DejaVu Serif", size=40, color="black")))
annotations.append(dict(text="<b>" + TITLE_RIGHT + "</b>", xref="paper", yref="paper", x=px(641), y=py(31),
                        xanchor="left", yanchor="middle", showarrow=False,
                        font=dict(family="DejaVu Serif", size=38.5, color="black")))

fig.update_layout(width=W, height=H, margin=dict(l=0, r=0, t=0, b=0),
                  paper_bgcolor="white", plot_bgcolor="white", showlegend=False,
                  shapes=shapes, annotations=annotations, **axes)

fig.write_html("out.html", config={"displayModeBar": False},
               post_script="document.body.style.margin='0';document.body.style.overflow='hidden';")
